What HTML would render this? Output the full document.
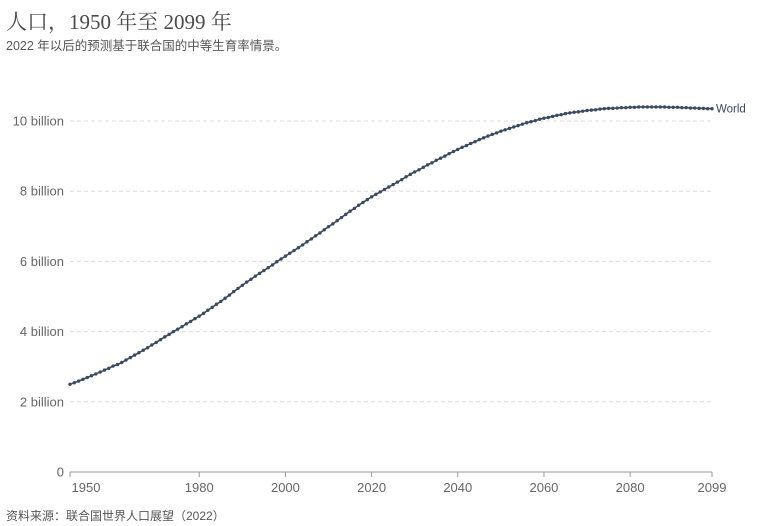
<!DOCTYPE html>
<html><head><meta charset="utf-8">
<style>
body{margin:0;background:#fff;width:783px;height:526px;overflow:hidden;font-family:"Liberation Sans","Noto Sans CJK SC",sans-serif;}
#title{position:absolute;left:6px;top:6px;font-family:"Liberation Serif","Noto Serif CJK SC",serif;font-size:21px;color:#4a4a4a;}
#subtitle{position:absolute;left:6px;top:35px;font-size:12.5px;color:#555;}
#source{position:absolute;left:6px;top:507px;font-size:12px;color:#555;}
svg{position:absolute;left:0;top:0;}
</style></head><body>
<div id="title">人口，1950 年至 2099 年</div>
<div id="subtitle">2022 年以后的预测基于联合国的中等生育率情景。</div>
<div id="source">资料来源：联合国世界人口展望（2022）</div>
<svg id="chart" width="783" height="526"></svg>
<script>
const startYear = 1950;
const population = [2.499,2.543,2.590,2.640,2.691,2.742,2.794,2.848,2.904,2.954,
3.019,3.06,3.12,3.19,3.26,3.33,3.40,3.47,3.54,3.62,
3.69,3.77,3.85,3.92,4.00,4.07,4.14,4.22,4.29,4.37,
4.44,4.52,4.61,4.69,4.78,4.86,4.95,5.04,5.14,5.23,
5.32,5.41,5.49,5.58,5.66,5.74,5.82,5.90,5.99,6.07,
6.15,6.23,6.31,6.39,6.47,6.56,6.64,6.73,6.81,6.90,
6.99,7.07,7.16,7.25,7.34,7.43,7.51,7.60,7.68,7.76,
7.84,7.91,7.98,8.05,8.12,8.19,8.26,8.33,8.41,8.48,
8.55,8.61,8.68,8.75,8.81,8.88,8.94,9.00,9.07,9.13,
9.19,9.25,9.30,9.36,9.41,9.47,9.52,9.57,9.62,9.66,
9.71,9.75,9.79,9.83,9.87,9.91,9.95,9.98,10.01,10.05,
10.08,10.10,10.13,10.16,10.18,10.21,10.23,10.25,10.26,10.28,
10.30,10.31,10.32,10.34,10.35,10.36,10.36,10.37,10.38,10.38,
10.39,10.39,10.40,10.40,10.40,10.40,10.40,10.40,10.40,10.39,
10.39,10.39,10.38,10.38,10.37,10.37,10.36,10.36,10.35,10.35];
const yTicks = [0,2,4,6,8,10];
const yTickLabels = ["0","2 billion","4 billion","6 billion","8 billion","10 billion"];
const xTicks = [1950,1980,2000,2020,2040,2060,2080,2099];
const seriesName = "World";

const X0=70,X1=712,Y0=472,PERB=35.1;
const xs=y=>X0+(y-1950)*(X1-X0)/(2099-1950);
const ys=v=>Y0-v*PERB;
const svg=document.getElementById('chart');
const NS="http://www.w3.org/2000/svg";
function mk(t,a){const e=document.createElementNS(NS,t);for(const k in a)e.setAttribute(k,a[k]);svg.appendChild(e);return e;}

yTicks.forEach((t,i)=>{
  const y=ys(t);
  if(t>0){const g=mk('line',{x1:X0,x2:X1,y1:y,y2:y,stroke:'#ddd','stroke-dasharray':'4,3'});
  
  }
  const tx=mk('text',{x:64,y:y+4.5,'text-anchor':'end','font-size':13,fill:'#666','font-family':'Liberation Sans, sans-serif'});
  tx.textContent=yTickLabels[i];
  
  
});
const ax=mk('line',{x1:X0,x2:X1,y1:Y0,y2:Y0,stroke:'#999'});


xTicks.forEach(t=>{
  const x=xs(t);
  const tk=mk('line',{x1:x,x2:x,y1:Y0,y2:Y0+5,stroke:'#999'});
  
  
  const tx=mk('text',{x:t===1950?x+16:x,y:Y0+20,'text-anchor':'middle','font-size':13,fill:'#666','font-family':'Liberation Sans, sans-serif'});
  tx.textContent=t;
  
  
});
let d='';
population.forEach((v,i)=>{d+=(i?'L':'M')+xs(startYear+i).toFixed(2)+','+ys(v).toFixed(2);});
const line=mk('path',{d:d,fill:'none',stroke:'#3c4a60','stroke-width':1.6});


population.forEach((v,i)=>{
  const c=mk('circle',{cx:xs(startYear+i),cy:ys(v),r:1.7,fill:'#3c4a60'});
  
  
});
const last=population[population.length-1];
const lab=mk('text',{x:X1+4,y:ys(last)+4,'font-size':11.5,fill:'#3c4a60','font-family':'Liberation Sans, sans-serif'});
lab.textContent=seriesName;


</script>
</body></html>
